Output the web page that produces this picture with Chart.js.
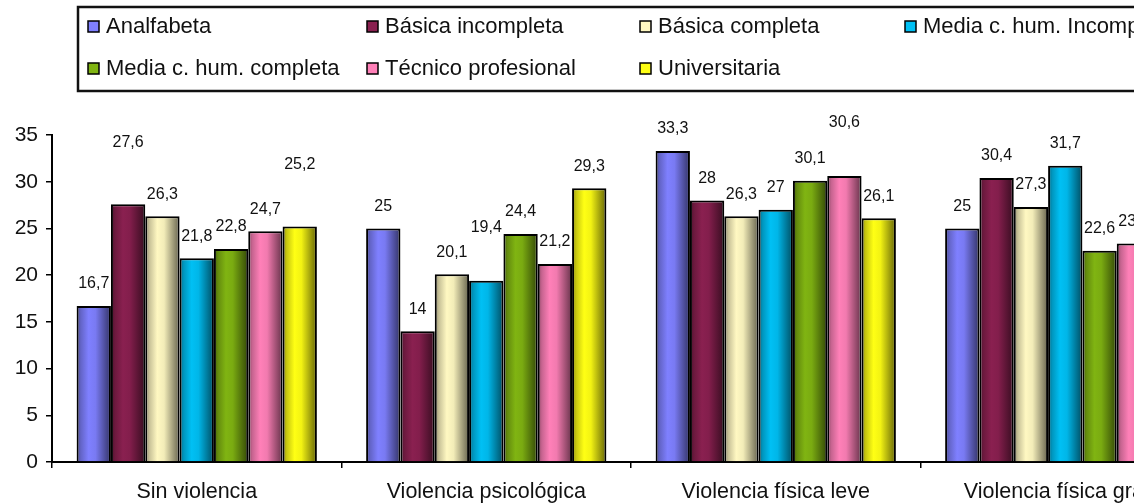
<!DOCTYPE html>
<html>
<head>
<meta charset="utf-8">
<script src="https://cdn.jsdelivr.net/npm/chart.js@4/dist/chart.umd.min.js"></script>
<style>
  html, body { margin: 0; padding: 0; background: #fff; overflow: hidden; }
  canvas { display: block; }
</style>
</head>
<body>
<canvas id="grafico" width="1240" height="504"></canvas>
<script>
const categorias = ['Sin violencia', 'Violencia psicológica', 'Violencia física leve', 'Violencia física grave'];
const niveles = ['Analfabeta', 'Básica incompleta', 'Básica completa', 'Media c. hum. Incompleta',
                 'Media c. hum. completa', 'Técnico profesional', 'Universitaria'];

const analfabeta         = [16.7, 25,   33.3, 25];
const basicaIncompleta   = [27.6, 14,   28,   30.4];
const basicaCompleta     = [26.3, 20.1, 26.3, 27.3];
const mediaIncompleta    = [21.8, 19.4, 27,   31.7];
const mediaCompleta      = [22.8, 24.4, 30.1, 22.6];
const tecnicoProfesional = [24.7, 21.2, 30.6, 23.4];
const universitaria      = [25.2, 29.3, 26.1, 21];

const ticksY = [0, 5, 10, 15, 20, 25, 30, 35];

const series = [analfabeta, basicaIncompleta, basicaCompleta, mediaIncompleta,
                mediaCompleta, tecnicoProfesional, universitaria];
const colores = ['#7f80ff', '#8a2050', '#fff8c2', '#00c0f4', '#80b412', '#ff80b8', '#ffff14'];

// algunas etiquetas quedaron movidas hacia arriba (serie -> categoria -> px extra)
const etiquetasElevadas = { 1: { 0: 40 }, 3: { 1: 31 }, 5: { 2: 32 }, 6: { 0: 40 } };

const fuente = "'Liberation Sans', Arial, sans-serif";

function sombra(hex, f) {
  const n = parseInt(hex.slice(1), 16);
  const r = Math.round(((n >> 16) & 255) * f);
  const g = Math.round(((n >> 8) & 255) * f);
  const b = Math.round((n & 255) * f);
  return 'rgb(' + r + ',' + g + ',' + b + ')';
}

// degradado horizontal en cada barra (efecto cilindro)
const degradadoBarras = {
  id: 'degradadoBarras',
  beforeDatasetDraw(chart, args) {
    const ctx = chart.ctx;
    const base = colores[args.index];
    args.meta.data.forEach(bar => {
      const izq = bar.x - bar.width / 2;
      const der = bar.x + bar.width / 2;
      const g = ctx.createLinearGradient(izq, 0, der, 0);
      g.addColorStop(0, sombra(base, 0.55));
      g.addColorStop(0.12, sombra(base, 0.78));
      g.addColorStop(0.35, base);
      g.addColorStop(0.55, sombra(base, 0.95));
      g.addColorStop(1, sombra(base, 0.4));
      bar.options = Object.assign({}, bar.options, { backgroundColor: g });
    });
  }
};

// valores sobre las barras, con coma decimal
const etiquetasValor = {
  id: 'etiquetasValor',
  afterDatasetsDraw(chart) {
    const ctx = chart.ctx;
    ctx.save();
    ctx.font = '16px ' + fuente;
    ctx.fillStyle = '#111';
    ctx.textAlign = 'center';
    ctx.textBaseline = 'middle';
    chart.data.datasets.forEach((ds, i) => {
      chart.getDatasetMeta(i).data.forEach((bar, j) => {
        const extra = (etiquetasElevadas[i] && etiquetasElevadas[i][j]) || 0;
        ctx.fillText(String(ds.data[j]).replace('.', ','), bar.x, bar.y - 22 - extra);
      });
    });
    ctx.restore();
  }
};

// leyenda en recuadro, 4 columnas
const leyendaCaja = {
  id: 'leyendaCaja',
  afterDraw(chart) {
    const ctx = chart.ctx;
    const columnas = [88, 367, 640, 905];
    const filas = [27, 69];
    ctx.save();
    ctx.strokeStyle = '#111';
    ctx.lineWidth = 2.5;
    ctx.strokeRect(78, 7, 1300, 84);
    ctx.font = '22px ' + fuente;
    ctx.textBaseline = 'middle';
    chart.data.datasets.forEach((ds, i) => {
      const x = columnas[i % 4];
      const y = filas[Math.floor(i / 4)];
      ctx.fillStyle = colores[i];
      ctx.fillRect(x, y - 6, 11, 11);
      ctx.lineWidth = 1.5;
      ctx.strokeStyle = '#000';
      ctx.strokeRect(x, y - 6, 11, 11);
      ctx.fillStyle = '#111';
      ctx.fillText(ds.label, x + 18, y);
    });
    ctx.restore();
  }
};

new Chart(document.getElementById('grafico'), {
  type: 'bar',
  data: {
    labels: categorias,
    datasets: series.map((valores, i) => ({
      label: niveles[i],
      data: valores,
      backgroundColor: colores[i],
      borderColor: '#000',
      borderWidth: 2,
      borderSkipped: 'bottom',
      barPercentage: 1,
      categoryPercentage: 0.83
    }))
  },
  options: {
    responsive: false,
    animation: false,
    devicePixelRatio: 1,
    layout: { padding: { top: 135, right: 30, left: 0, bottom: 0 } },
    plugins: { legend: { display: false }, tooltip: { enabled: false } },
    scales: {
      x: {
        offset: true,
        border: { color: '#000', width: 2 },
        grid: { offset: true, drawOnChartArea: false, color: '#000', lineWidth: 1.5, tickLength: 6 },
        ticks: { color: '#111', font: { family: fuente, size: 21.5 }, padding: 11, maxRotation: 0, autoSkip: false },
        afterFit(s) { s.height = 42; }
      },
      y: {
        min: 0,
        max: 35,
        afterBuildTicks(s) { s.ticks = ticksY.map(v => ({ value: v })); },
        border: { color: '#000', width: 2 },
        grid: { drawOnChartArea: false, color: '#000', lineWidth: 1.5, tickLength: 6 },
        ticks: { color: '#111', font: { family: fuente, size: 21 }, padding: 8 },
        afterFit(s) { s.width = 52; }
      }
    }
  },
  plugins: [degradadoBarras, etiquetasValor, leyendaCaja]
});
</script>
</body>
</html>
